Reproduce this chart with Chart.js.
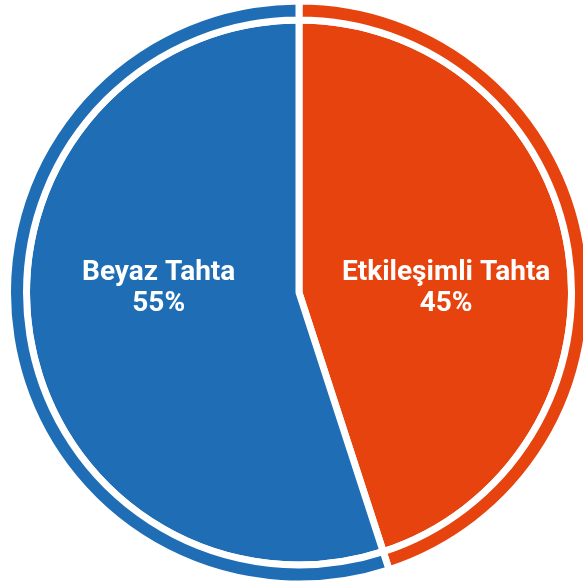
<!DOCTYPE html>
<html>
<head>
<meta charset="utf-8">
<script src="https://cdn.jsdelivr.net/npm/chart.js@4"></script>
<style>
  html, body { margin: 0; padding: 0; background: #fff; overflow: hidden; }
  #wrap { width: 583px; height: 584px; }
</style>
</head>
<body>
<div id="wrap"><canvas id="pie" width="583" height="584"></canvas></div>
<script>
const categories = ['Etkileşimli Tahta', 'Beyaz Tahta'];
const shares = [45, 55];
const percentLabels = ['45%', '55%'];
const colors = ['#E6430F', '#1F6EB5'];

// text labels drawn in the middle of each slice, both on one row
const sliceLabels = {
  id: 'sliceLabels',
  afterDatasetsDraw(chart) {
    const meta = chart.getDatasetMeta(1);
    const ctx = chart.ctx;
    ctx.save();
    ctx.fillStyle = '#fff';
    ctx.textAlign = 'center';
    ctx.textBaseline = 'alphabetic';
    ctx.font = 'bold 28px Roboto';
    meta.data.forEach((arc, i) => {
      const p = arc.getProps(['x', 'y', 'startAngle', 'endAngle', 'outerRadius'], true);
      const mid = (p.startAngle + p.endAngle) / 2;
      const side = Math.cos(mid) >= 0 ? 1 : -1;
      const x = p.x + side * p.outerRadius * (side > 0 ? 0.54 : 0.515);
      const y = p.y;
      ctx.fillText(categories[i], x, y - 13);
      ctx.fillText(percentLabels[i], x, y + 18);
    });
    ctx.restore();
  }
};

new Chart(document.getElementById('pie'), {
  type: 'pie',
  data: {
    labels: categories,
    datasets: [
      {
        data: shares,
        backgroundColor: colors,
        borderColor: '#fff',
        borderWidth: 7,
        weight: 19
      },
      {
        data: shares,
        backgroundColor: colors,
        borderColor: '#fff',
        borderWidth: 7,
        weight: 272.5
      }
    ]
  },
  options: {
    responsive: false,
    animation: false,
    radius: 291.5,
    layout: { padding: { left: 15, right: 0, top: 1, bottom: 0 } },
    plugins: {
      legend: { display: false },
      tooltip: { enabled: false }
    }
  },
  plugins: [sliceLabels]
});
</script>
</body>
</html>
